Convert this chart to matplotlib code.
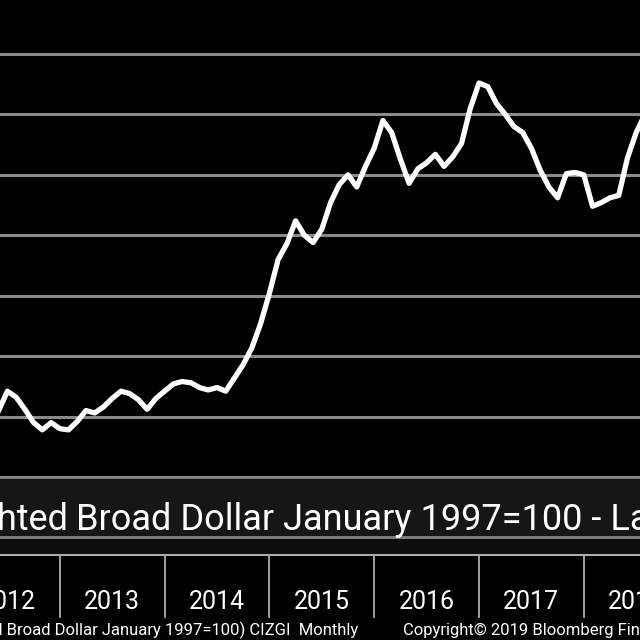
import matplotlib
matplotlib.use('Agg')
import matplotlib.pyplot as plt
import matplotlib.patches as mpatches
import numpy as np

# monthly values, Jun 2012 .. Aug 2018
start_year, start_month = 2012, 6
vals = [100.5, 102.1, 101.6, 100.6, 99.5, 98.9, 99.5,
        99.0, 98.9, 99.6, 100.5, 100.3, 100.8, 101.5, 102.1, 101.9, 101.4, 100.6, 101.5,
        102.1, 102.7, 102.9, 102.8, 102.4, 102.2, 102.4, 102.1, 103.2, 104.3, 105.7, 107.7,
        110.2, 113.0, 114.3, 116.2, 115.0, 114.4, 115.5, 117.7, 119.2, 120.0, 119.0, 120.7,
        122.2, 124.5, 123.5, 121.3, 119.3, 120.5, 121.0, 121.7, 120.7, 121.5, 122.6, 125.5,
        127.6, 127.3, 125.9, 125.0, 124.0, 123.5, 122.2, 120.4, 119.0, 118.1, 120.1, 120.2,
        120.0, 117.4, 117.7, 118.1, 118.3, 121.4, 123.5, 125.0]
years = ['2012', '2013', '2014', '2015', '2016', '2017', '2018']
grid_vals = [95, 100, 105, 110, 115, 120, 125, 130]

title_a = 'U.S. Trade Weighted'
title_b = 'Broad Dollar January 1997=100 - Last Price'
foot_left = '(U.S. Trade Weighted Broad Dollar January 1997=100) CIZGI  Monthly'
foot_right = 'Copyright\u00a9 2019 Bloomberg Finance L.P.'

t = [start_year + (start_month - 1 + i) / 12 for i in range(len(vals))]

W = H = 640.0
def fx(px): return px / W
def fy(py): return 1 - py / H

plt.rcParams['font.family'] = ['Roboto', 'DejaVu Sans']

fig = plt.figure(figsize=(6.4, 6.4), dpi=100, facecolor='black')

xl = (2012 + 45 / 104.8, 2012 + 685 / 104.8)

# main plot
ax = fig.add_axes([0, fy(479), 1, 479 / H])
ax.set_facecolor('black')
for g in grid_vals:
    ax.axhline(g, color='#8a8a8a', lw=2.2, zorder=1)
ax.plot(t, vals, color='white', lw=3.8, solid_joinstyle='round', zorder=3)
ax.set_xlim(*xl)
ax.set_ylim(95 - 2 / 12.086, 95 + 477 / 12.086)
ax.axis('off')

# title band
fig.patches.append(mpatches.Rectangle((0, fy(536)), 1, (536 - 479) / H, transform=fig.transFigure,
                                      color='#161616', zorder=0))
fig.patches.append(mpatches.Rectangle((0, fy(553)), 1, (553 - 536) / H, transform=fig.transFigure,
                                      color='#0e0e0e', zorder=0))
fig.add_artist(plt.Line2D([0, 1], [fy(537), fy(537)], transform=fig.transFigure, color='#7a7a7a', lw=2.2))
fig.add_artist(plt.Line2D([0, 1], [fy(555), fy(555)], transform=fig.transFigure, color='#d0d0d0', lw=1.2))

fig.text(fx(76), fy(520), title_b, color='white', fontsize=26, ha='left', va='center')
fig.text(fx(68), fy(520), title_a, color='white', fontsize=26, ha='right', va='center')

# year axis
axb = fig.add_axes([0, 0, 1, fy(556)])
axb.set_facecolor('black')
axb.set_xlim(*xl)
axb.set_ylim(0, 1)
axb.axis('off')
for i, y in enumerate(years):
    yr = int(y)
    axb.text(yr + 0.5, 1 - (602 - 556) / 84, y, color='white', fontsize=18, ha='center', va='center')
    if i > 0:
        axb.plot([yr, yr], [1, 1 - (617 - 556) / 84], color='#bdbdbd', lw=1.2)

fig.text(fx(358), fy(630), foot_left, color='white', fontsize=12, ha='right', va='center')
fig.text(fx(403), fy(630), foot_right, color='white', fontsize=12, ha='left', va='center')

fig.savefig('out.png', dpi=100, facecolor='black')
